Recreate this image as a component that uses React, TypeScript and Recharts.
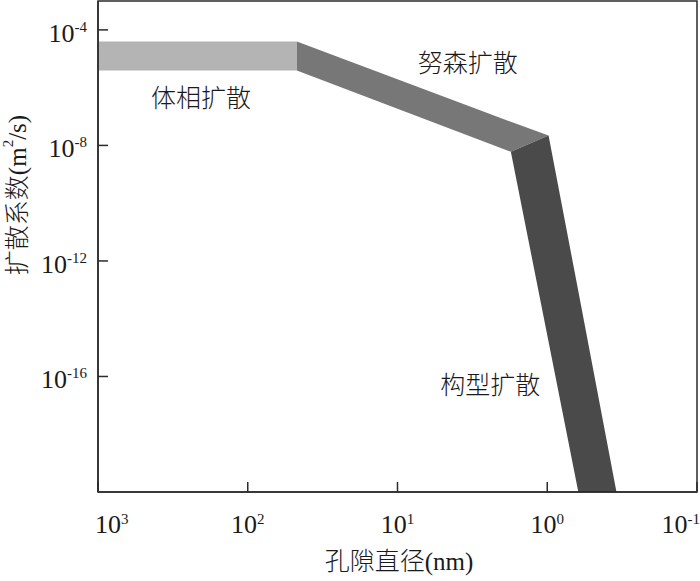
import { ComposedChart, Area, XAxis, YAxis, ReferenceArea, ReferenceDot, Label } from 'recharts';

// pore diameter (nm) and [low, high] diffusion coefficient (m^2/s) along each band edge
const bulkPore = [1000, 47];
const bulkD = [
  [3.9e-6, 4.0e-5],
  [3.9e-6, 4.0e-5],
];

const knudsenPore = [47, 1.75, 0.98];
const knudsenD = [
  [3.9e-6, 4.0e-5],
  [6.0e-9, 6.6e-8],
  [2.2e-8, 2.2e-8],
];

const configPore = [1.75, 0.98, 0.62, 0.345];
const configD = [
  [6.0e-9, 6.0e-9],
  [1.6e-15, 2.2e-8],
  [1e-20, 8.9e-14],
  [1e-20, 1e-20],
];

const bandNames = ['体相扩散', '努森扩散', '构型扩散'];
const bandLabelPore = [205, 3.4, 2.4];
const bandLabelD = [4.4e-7, 7.1e-6, 4.9e-17];

const xTicks = [1000, 100, 10, 1, 0.1];
const yTicks = [1e-16, 1e-12, 1e-8, 1e-4];

const COLORS = ['#b4b4b4', '#777777', '#4a4a4a'];
const INK = '#1a1a1a';
const AXIS = '#2b2b2b';
const SERIF = "'Liberation Serif', 'Noto Sans CJK SC', serif";
const CJK = "'Noto Sans CJK SC', 'Liberation Serif', sans-serif";

const toRows = (pore: number[], d: number[][]) => pore.map((p, i) => ({ pore: p, d: d[i] }));

function XTick(props: any) {
  const { x, y, payload, index } = props;
  const exp = Math.round(Math.log10(payload.value));
  const last = xTicks.length - 1;
  const anchor = index === 0 ? 'start' : index === last ? 'end' : 'middle';
  const dx = index === 0 ? -3 : index === last ? 3 : 0;
  return (
    <text x={x + dx} y={y + 51} textAnchor={anchor} fontFamily={SERIF} fontSize={26} fill={INK}>
      10
      <tspan dy={-9} fontSize={15}>
        {exp}
      </tspan>
    </text>
  );
}

function YTick(props: any) {
  const { x, y, payload } = props;
  const exp = Math.round(Math.log10(payload.value));
  return (
    <text x={x - 21} y={y + 12} textAnchor="end" fontFamily={SERIF} fontSize={26} fill={INK}>
      10
      <tspan dy={-10} fontSize={15}>
        {exp}
      </tspan>
    </text>
  );
}

function YTitle() {
  return (
    <text
      transform="translate(17,195) rotate(-90)"
      textAnchor="middle"
      dominantBaseline="central"
      fontFamily={SERIF}
      fontSize={25}
      fontWeight={300}
      fill={INK}
    >
      扩散系数(m
      <tspan dy={-9} fontSize={15}>
        2
      </tspan>
      <tspan dy={9}>/s)</tspan>
    </text>
  );
}

function XTitle() {
  return (
    <text
      x={399}
      y={561}
      textAnchor="middle"
      dominantBaseline="central"
      fontFamily={SERIF}
      fontSize={25}
      fontWeight={300}
      fill={INK}
    >
      孔隙直径(nm)
    </text>
  );
}

export default function App() {
  const bands = [toRows(bulkPore, bulkD), toRows(knudsenPore, knudsenD), toRows(configPore, configD)];
  return (
    <div style={{ position: 'absolute', left: 0, top: 0, background: '#fff' }}>
      <ComposedChart width={700} height={581} margin={{ top: 1, right: 3, bottom: 0, left: 0 }}>
        <XAxis
          dataKey="pore"
          type="number"
          scale="log"
          domain={[0.1, 1000]}
          allowDataOverflow
          reversed
          ticks={xTicks}
          interval={0}
          height={89}
          tickSize={-10}
          tickMargin={0}
          tick={<XTick />}
          stroke={AXIS}
          strokeWidth={1.5}
          label={<Label content={<XTitle />} />}
        />
        <YAxis
          type="number"
          scale="log"
          domain={[1e-20, 1e-3]}
          allowDataOverflow
          ticks={yTicks}
          interval={0}
          width={98}
          tickSize={-10}
          tickMargin={0}
          tick={<YTick />}
          stroke={AXIS}
          strokeWidth={1.5}
          label={<Label content={<YTitle />} />}
        />
        {bands.map((rows, i) => (
          <Area
            key={bandNames[i]}
            data={rows}
            dataKey="d"
            type="linear"
            fill={COLORS[i]}
            fillOpacity={1}
            stroke="none"
            isAnimationActive={false}
            dot={false}
            activeDot={false}
          />
        ))}
        <ReferenceArea x1={1000} x2={0.1} y1={1e-20} y2={1e-3} fill="none" stroke={AXIS} strokeWidth={1.5} />
        {bandNames.map((name, i) => (
          <ReferenceDot
            key={name}
            x={bandLabelPore[i]}
            y={bandLabelD[i]}
            r={0}
            fill="none"
            stroke="none"
            label={{ value: name, position: 'center', fontSize: 25, fontWeight: 300, fill: INK, fontFamily: CJK }}
          />
        ))}
      </ComposedChart>
    </div>
  );
}
